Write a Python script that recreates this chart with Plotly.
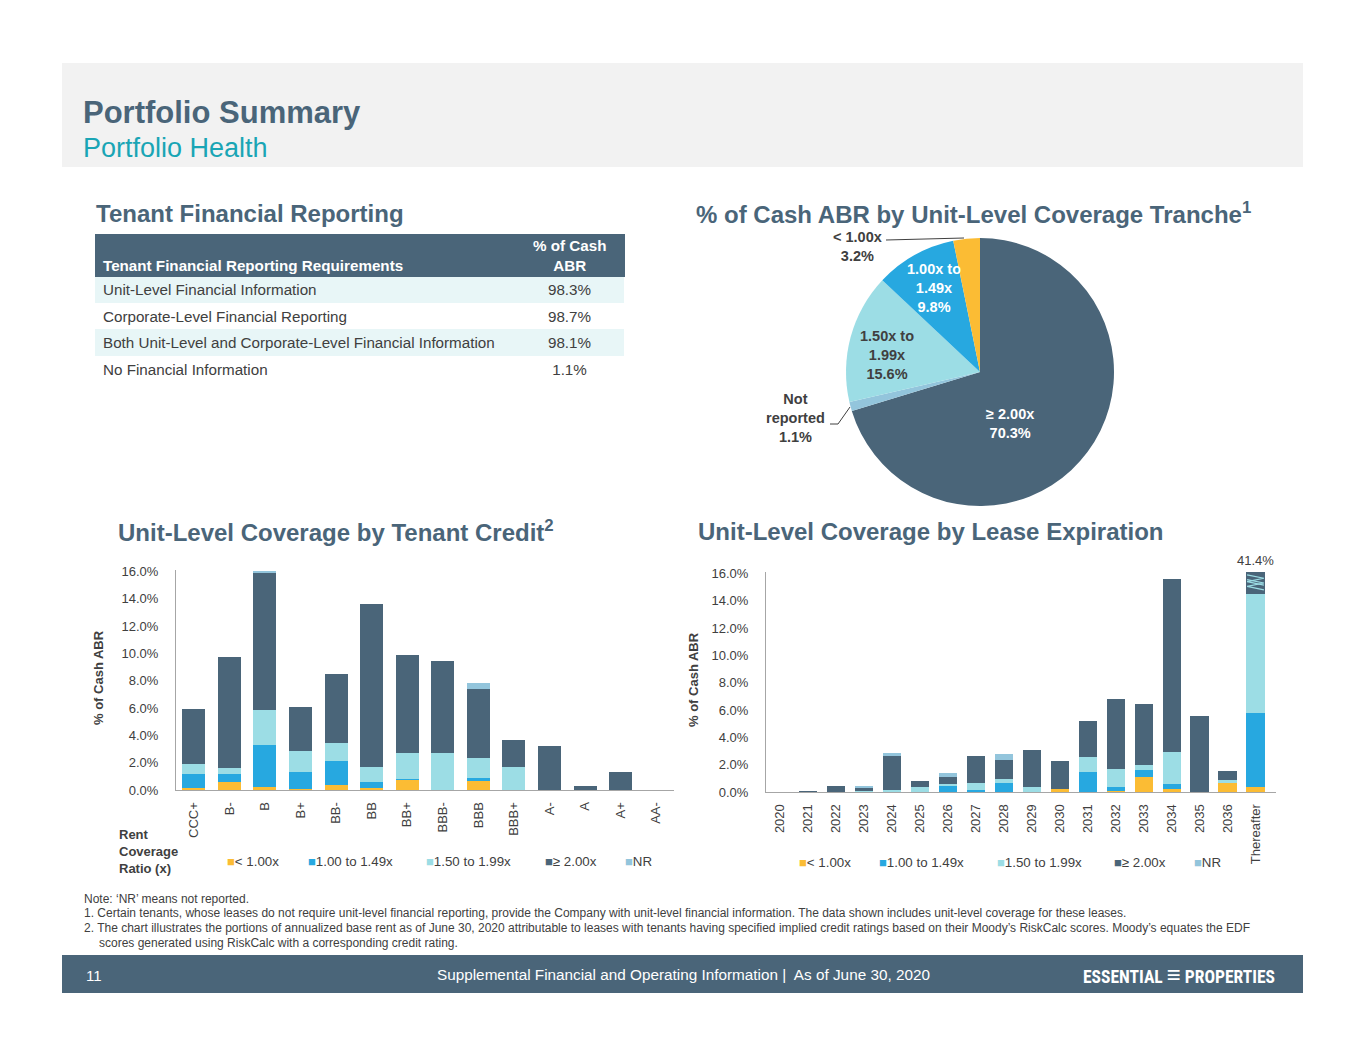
import plotly.graph_objects as go

# the page body has an 8px margin, so the figure is drawn 8px in and 16px smaller
OFF = 8
FW, FH = 1365 - 2 * OFF, 1055 - 2 * OFF


def px(x):
    return (x - OFF) / FW


def py(y):
    return 1 - (y - OFF) / FH


# colours
SLATE = "#4a6579"
BLUE = "#27a8e0"
CYAN = "#9cdde5"
YELLOW = "#fbbc34"
NRCOL = "#93c5dc"
TEAL = "#1aa5b5"
GREY_TXT = "#404040"
FONT = "Liberation Sans, Arial, sans-serif"

# tenant financial reporting table
table_head = ["Tenant Financial Reporting Requirements", "% of Cash<br>ABR"]
table_rows = ["Unit-Level Financial Information",
              "Corporate-Level Financial Reporting",
              "Both Unit-Level and Corporate-Level Financial Information",
              "No Financial Information"]
table_pct = [98.3, 98.7, 98.1, 1.1]

# pie: % of cash ABR by coverage tranche (clockwise from 12 o'clock)
tranche_labels = ["≥ 2.00x", "Not<br>reported", "1.50x to<br>1.99x", "1.00x to<br>1.49x", "< 1.00x"]
tranche_pct = [70.3, 1.1, 15.6, 9.8, 3.2]
tranche_colors = [SLATE, NRCOL, CYAN, BLUE, YELLOW]

series_names = ["< 1.00x", "1.00 to 1.49x", "1.50 to 1.99x", "≥ 2.00x", "NR"]
series_colors = [YELLOW, BLUE, CYAN, SLATE, NRCOL]

# coverage by tenant credit
credit = ["CCC+", "B-", "B", "B+", "BB-", "BB", "BB+", "BBB-", "BBB", "BBB+", "A-", "A", "A+", "AA-"]
credit_lt100 = [0.17, 0.59, 0.25, 0.10, 0.37, 0.15, 0.76, 0.0, 0.66, 0.0, 0.0, 0.0, 0.0, 0.0]
credit_100_149 = [1.03, 0.61, 3.04, 1.20, 1.72, 0.42, 0.05, 0.0, 0.20, 0.0, 0.0, 0.0, 0.0, 0.0]
credit_150_199 = [0.71, 0.42, 2.60, 1.52, 1.37, 1.15, 1.89, 2.72, 1.45, 1.72, 0.0, 0.0, 0.0, 0.0]
credit_ge200 = [4.04, 8.09, 10.00, 3.28, 5.02, 11.91, 7.21, 6.69, 5.12, 1.94, 3.21, 0.27, 1.32, 0.0]
credit_nr = [0.0, 0.0, 0.10, 0.0, 0.0, 0.0, 0.0, 0.0, 0.37, 0.0, 0.0, 0.0, 0.0, 0.0]

# coverage by lease expiration
years = ["2020", "2021", "2022", "2023", "2024", "2025", "2026", "2027", "2028", "2029",
         "2030", "2031", "2032", "2033", "2034", "2035", "2036", "Thereafter"]
exp_lt100 = [0, 0, 0, 0, 0, 0, 0, 0, 0, 0, 0.24, 0, 0.08, 1.10, 0.24, 0, 0.66, 0.34]
exp_100_149 = [0, 0, 0, 0, 0, 0, 0.42, 0.15, 0.64, 0, 0, 1.44, 0.32, 0.49, 0.37, 0, 0, 5.43]
exp_150_199 = [0, 0, 0, 0.10, 0.17, 0.39, 0.15, 0.54, 0.34, 0.37, 0, 1.12, 1.28, 0.42, 2.32, 0, 0.20, 8.70]
exp_ge200 = [0, 0.05, 0.44, 0.22, 2.45, 0.44, 0.54, 1.91, 1.35, 2.71, 2.06, 2.67, 5.14, 4.40, 12.69, 5.60, 0.66, 26.93]
exp_nr = [0, 0, 0, 0.12, 0.27, 0, 0.29, 0, 0.42, 0, 0, 0, 0, 0, 0, 0, 0, 0]

fig = go.Figure()

# table: header band is the table's own header, its two-line text is laid on top below
fig.add_trace(go.Table(
    domain=dict(x=[px(95), px(624)], y=[py(400), py(234)]),
    columnwidth=[420, 109],
    header=dict(values=["", ""], fill_color=SLATE, line_color=SLATE, height=42),
    cells=dict(values=[table_rows, [f"{v}%" for v in table_pct]],
               fill_color=[["#e8f6f7", "white", "#e8f6f7", "white"]] * 2,
               line_color="rgba(0,0,0,0)", align=["left", "center"],
               font=dict(color=GREY_TXT, size=15.2, family=FONT), height=26.5),
))

# pie
fig.add_trace(go.Pie(
    labels=[t.replace("<br>", " ") for t in tranche_labels], values=tranche_pct,
    marker=dict(colors=tranche_colors, line=dict(width=0)),
    sort=False, direction="clockwise", rotation=0, textinfo="none",
    domain=dict(x=[px(846), px(1114)], y=[py(506), py(238)]),
    showlegend=False, hoverinfo="skip",
))

for name, color, vals in zip(series_names, series_colors,
                             [credit_lt100, credit_100_149, credit_150_199, credit_ge200, credit_nr]):
    fig.add_trace(go.Bar(x=credit, y=vals, name=name, marker=dict(color=color, line=dict(width=0)),
                         xaxis="x", yaxis="y", showlegend=False, hoverinfo="skip"))

for name, color, vals in zip(series_names, series_colors,
                             [exp_lt100, exp_100_149, exp_150_199, exp_ge200, exp_nr]):
    fig.add_trace(go.Bar(x=years, y=vals, name=name, marker=dict(color=color, line=dict(width=0)),
                         xaxis="x2", yaxis="y2", showlegend=False, hoverinfo="skip"))

yticks = list(range(0, 17, 2))
axis_common = dict(showgrid=False, zeroline=False, showline=True, linecolor="#a6a6a6", linewidth=1,
                   tickfont=dict(size=13, color=GREY_TXT, family=FONT), fixedrange=True)
ycommon = dict(axis_common, range=[0, 16.1], tickmode="array", tickvals=yticks,
               ticktext=[f"{v:.1f}%" for v in yticks], ticklabelstandoff=14)
xcommon = dict(axis_common, tickangle=-90, ticklabelstandoff=6)

PX_PER_PCT = 13.66
fig.update_layout(
    width=FW, height=FH, margin=dict(l=0, r=0, t=0, b=0, autoexpand=False),
    paper_bgcolor="white", plot_bgcolor="white",
    font=dict(family=FONT, color=GREY_TXT),
    barmode="stack", bargap=0.35,
    xaxis=dict(xcommon, domain=[px(176), px(674)], anchor="y"),
    yaxis=dict(ycommon, domain=[py(790), py(790 - 16.1 * PX_PER_PCT)], anchor="x"),
    xaxis2=dict(xcommon, domain=[px(766), px(1276)], anchor="y2"),
    yaxis2=dict(ycommon, domain=[py(792), py(792 - 16.1 * PX_PER_PCT)], anchor="x2"),
)

shapes = [
    dict(type="rect", xref="paper", yref="paper", x0=px(62), x1=px(1303), y0=py(167), y1=py(63),
         fillcolor="#f2f2f2", line=dict(width=0), layer="below"),
    dict(type="rect", xref="paper", yref="paper", x0=px(62), x1=px(1303), y0=py(993), y1=py(955),
         fillcolor=SLATE, line=dict(width=0), layer="below"),
    # pie leader lines
    dict(type="line", xref="paper", yref="paper", x0=px(886), y0=py(240), x1=px(964), y1=py(238),
         line=dict(color="#404040", width=1)),
    dict(type="path", xref="paper", yref="paper",
         path=f"M {px(830)},{py(424)} L {px(838)},{py(424)} L {px(850)},{py(407)}",
         line=dict(color="#404040", width=1)),
]

# axis break marks on the "Thereafter" bar
i = len(years) - 1
top = ycommon["range"][1]
for off in (0.0, 0.35):
    pts = [(i - 0.3, top - 0.2 - off), (i + 0.3, top - 0.45 - off), (i - 0.3, top - 0.7 - off),
           (i + 0.3, top - 0.95 - off)]
    path = "M " + " L ".join(f"{x},{y}" for x, y in pts)
    shapes.append(dict(type="path", xref="x2", yref="y2", path=path,
                       line=dict(color=CYAN, width=1.2)))

fig.update_layout(shapes=shapes)

ann = []


def text(x, y, s, size, color=GREY_TXT, bold=False, xanchor="left", yanchor="middle", align="left",
         angle=0, family=FONT):
    ann.append(dict(x=px(x), y=py(y), xref="paper", yref="paper", text=f"<b>{s}</b>" if bold else s,
                    showarrow=False, xanchor=xanchor, yanchor=yanchor, align=align, textangle=angle,
                    font=dict(size=size, color=color, family=family)))


# header
text(81, 113, "Portfolio Summary", 31, SLATE, bold=True)
text(81, 148, "Portfolio Health", 27, TEAL)

# section titles
text(94, 213, "Tenant Financial Reporting", 24, SLATE, bold=True)
text(694, 213, "% of Cash ABR by Unit-Level Coverage Tranche<sup>1</sup>", 24, SLATE, bold=True)
text(116, 531, "Unit-Level Coverage by Tenant Credit<sup>2</sup>", 24, SLATE, bold=True)
text(696, 531, "Unit-Level Coverage by Lease Expiration", 24, SLATE, bold=True)

# table header text
text(101, 265, table_head[0], 15.2, "white", bold=True)
text(569, 255, table_head[1], 15.2, "white", bold=True, xanchor="center", align="center")

# pie labels
pie_pos = [(1010, 423, "white"), (795, 418, GREY_TXT), (887, 355, GREY_TXT), (934, 288, "white"),
           (857, 247, GREY_TXT)]
for lab, val, (x, y, c) in zip(tranche_labels, tranche_pct, pie_pos):
    text(x, y, f"{lab}<br>{val}%", 14.5, c, bold=True, xanchor="center", align="center")

# y axis titles
text(98, 678, "% of Cash ABR", 13, GREY_TXT, bold=True, xanchor="center", angle=-90)
text(693, 680, "% of Cash ABR", 13, GREY_TXT, bold=True, xanchor="center", angle=-90)

# thereafter total
ann.append(dict(x="Thereafter", y=top, xref="x2", yref="y2", yanchor="bottom", yshift=2, showarrow=False,
                text=f"{exp_lt100[i] + exp_100_149[i] + exp_150_199[i] + exp_ge200[i] + exp_nr[i]:.1f}%",
                font=dict(size=13, color=GREY_TXT, family=FONT)))

# legends
text(117, 851, "Rent<br>Coverage<br>Ratio (x)", 13, GREY_TXT, bold=True)
left_leg_x = [225, 306, 424, 543, 623]
right_leg_x = [797, 877, 995, 1112, 1192]
for name, color, lx, rx in zip(series_names, series_colors, left_leg_x, right_leg_x):
    lab = f"<span style='color:{color};font-size:13px'>■</span>{name}"
    text(lx, 861, lab, 13.3, GREY_TXT)
    text(rx, 862, lab, 13.3, GREY_TXT)

# footnotes
notes = [
    (82, 899, "Note: ‘NR’ means not reported."),
    (82, 913, "1. Certain tenants, whose leases do not require unit-level financial reporting, provide the "
              "Company with unit-level financial information. The data shown includes unit-level coverage for "
              "these leases."),
    (82, 928, "2. The chart illustrates the portions of annualized base rent as of June 30, 2020 attributable to "
              "leases with tenants having specified implied credit ratings based on their Moody’s RiskCalc "
              "scores. Moody’s equates the EDF"),
    (97, 943, "scores generated using RiskCalc with a corresponding credit rating."),
]
for x, y, s in notes:
    text(x, y, s, 12, GREY_TXT)

# footer bar
text(84, 975, "11", 15, "white")
text(683, 974, "Supplemental Financial and Operating Information |  As of June 30, 2020", 15.3, "white",
     xanchor="center")
text(1277, 975, "ESSENTIAL <span style='font-size:24px'>≡</span> PROPERTIES", 17.5, "white", bold=True,
     xanchor="right", family="Liberation Sans Narrow, Roboto Condensed, Liberation Sans, Arial")

fig.update_layout(annotations=ann)

fig.write_html("out.html")
